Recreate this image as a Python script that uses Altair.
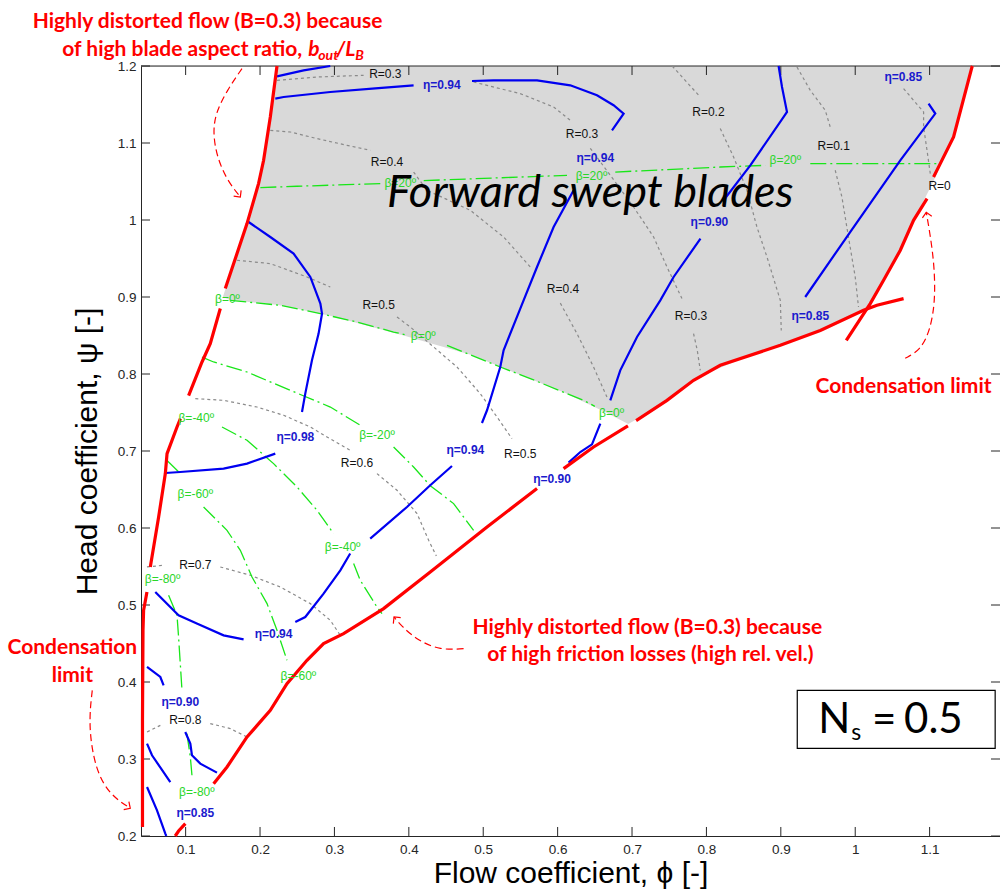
import altair as alt
import pandas as pd

# ---------------- axes ----------------
X_DOMAIN = [0.04, 1.1946]
Y_DOMAIN = [0.2, 1.2]
X_TICKS = [0.1, 0.2, 0.3, 0.4, 0.5, 0.6, 0.7, 0.8, 0.9, 1.0, 1.1]
Y_TICKS = [0.2, 0.3, 0.4, 0.5, 0.6, 0.7, 0.8, 0.9, 1.0, 1.1, 1.2]

# ---------------- shaded "forward swept" region ----------------
SHADE_Y = [0.735, 0.75, 0.775, 0.80, 0.825, 0.85, 0.875, 0.885, 0.89, 0.896, 0.90, 0.95, 1.00, 1.05, 1.10, 1.15, 1.20]
SHADE_XL = [0.695, 0.665, 0.611, 0.547, 0.483, 0.393, 0.297, 0.248, 0.222, 0.160, 0.150, 0.167, 0.184, 0.199, 0.208, 0.216, 0.223]
SHADE_XR = [0.695, 0.722, 0.760, 0.798, 0.861, 0.934, 0.994, 1.018, 1.021, 1.023, 1.025, 1.054, 1.079, 1.105, 1.128, 1.144, 1.157]

# ---------------- red limit lines ----------------
RED_LINES = {
    "top_left": ([0.2228, 0.2138, 0.2048, 0.198, 0.1825, 0.1533],
                 [1.2, 1.1338, 1.0775, 1.0473, 0.9953, 0.911]),
    "left_a": ([0.1466, 0.1331, 0.122, 0.104], [0.885, 0.8395, 0.8156, 0.772]),
    "left_b": ([0.093, 0.0884, 0.075, 0.0727, 0.0637, 0.0525], [0.742, 0.7312, 0.6966, 0.6707, 0.6143, 0.5494]),
    "left_c": ([0.048, 0.0435, 0.0427, 0.042, 0.042], [0.5169, 0.4931, 0.467, 0.35, 0.2117]),
    "low_a": ([0.086, 0.0905, 0.0996], [0.2, 0.2065, 0.2161]),
    "low_b": ([0.1376, 0.1556, 0.1825, 0.2138, 0.2362, 0.2631, 0.2854, 0.3123, 0.3661, 0.4288, 0.4602, 0.5051, 0.5723],
              [0.268, 0.2896, 0.3286, 0.3631, 0.3979, 0.4282, 0.4499, 0.4629, 0.4953, 0.5429, 0.5668, 0.6013, 0.6512]),
    "low_c": ([0.608, 0.6483, 0.6945], [0.6771, 0.7052, 0.7326]),
    "low_d": ([0.7055, 0.747, 0.7827, 0.8186, 0.8993, 0.953, 1.0112, 1.0292, 1.065],
              [0.7395, 0.7658, 0.7918, 0.8113, 0.8373, 0.8565, 0.8827, 0.8892, 0.8979]),
    "right_a": ([0.988, 1.0202, 1.0381, 1.0606, 1.0784, 1.0965], [0.8438, 0.8914, 0.9217, 0.9607, 0.9996, 1.0278]),
    "right_b": ([1.1053, 1.1143, 1.1322, 1.1569, 1.1575], [1.0558, 1.0732, 1.1078, 1.1987, 1.2]),
}

# ---------------- efficiency contours (blue) ----------------
BLUE_LINES = {
    "b1": ([0.2228, 0.2586, 0.2944], [1.1866, 1.1944, 1.2]),
    "b2a": ([0.2205, 0.2317, 0.2944, 0.355, 0.4064], [1.1577, 1.1597, 1.1662, 1.171, 1.1749]),
    "b2b": ([0.4849, 0.5139, 0.5723, 0.617, 0.6529, 0.6752, 0.6887, 0.6731],
            [1.1805, 1.1814, 1.1814, 1.1749, 1.162, 1.149, 1.1382, 1.1165]),
    "b3": ([0.1846, 0.2138, 0.2451, 0.2676, 0.2811, 0.2833, 0.2787, 0.2698, 0.2608, 0.2564],
           [0.9974, 0.9779, 0.9564, 0.926, 0.8914, 0.8784, 0.8525, 0.8178, 0.7745, 0.7506]),
    "b4": ([0.0727, 0.0928, 0.151, 0.1825, 0.2205], [0.6714, 0.6727, 0.6771, 0.6836, 0.6966]),
    "b5a": ([0.2474, 0.2608, 0.2854, 0.3079, 0.3212], [0.4779, 0.4844, 0.5148, 0.5451, 0.5668]),
    "b5b": ([0.3481, 0.3975, 0.4288, 0.458], [0.5862, 0.6273, 0.6555, 0.6805]),
    "b6": ([0.0592, 0.0905, 0.1158, 0.151, 0.1779], [0.5169, 0.4866, 0.4758, 0.4606, 0.4554]),
    "b7": ([0.0481, 0.066, 0.0704], [0.4195, 0.4065, 0.3957]),
    "b8": ([0.0481, 0.0548, 0.0794], [0.32, 0.3048, 0.2701]),
    "b9": ([0.0481, 0.0615, 0.0727, 0.074], [0.2636, 0.2334, 0.2031, 0.2]),
    "b10": ([0.0995, 0.1063, 0.1085, 0.1197, 0.1421], [0.3351, 0.32, 0.3048, 0.294, 0.2823]),
    "b11": ([0.6574, 0.6462, 0.6305, 0.6147], [0.7356, 0.7087, 0.6987, 0.6849]),
    "b12": ([0.4983, 0.5051, 0.5229, 0.5274, 0.5498, 0.5723, 0.5946, 0.6215],
            [0.7364, 0.7529, 0.8091, 0.8308, 0.8849, 0.939, 0.9909, 1.0386]),
    "b13a": ([0.6708, 0.6842, 0.7067, 0.738, 0.7559, 0.792], [0.7658, 0.8048, 0.8481, 0.8957, 0.926, 0.9759]),
    "b13b": ([0.8231, 0.859, 0.9038, 0.9083, 0.9016, 0.897], [1.0256, 1.071, 1.1338, 1.1403, 1.1727, 1.2]),
    "b15": ([0.9328, 0.9932, 1.0606, 1.1076, 1.0986], [0.9, 0.9844, 1.0775, 1.1382, 1.1512]),
}

# ---------------- reaction degree contours (grey dotted) ----------------
GRAY_LINES = {
    "r1": ([0.2228, 0.2766, 0.3392], [1.1814, 1.1857, 1.1879]),
    "r2a": ([0.487, 0.5498, 0.5946, 0.617], [1.1792, 1.1641, 1.1468, 1.1295]),
    "r2b": ([0.6439, 0.6708, 0.7021, 0.729, 0.747, 0.7671], [1.0931, 1.0581, 1.0169, 0.9779, 0.939, 0.8979]),
    "r2c": ([0.7827, 0.7877, 0.7917], [0.8525, 0.8308, 0.8048]),
    "r3a": ([0.2138, 0.2407, 0.2766, 0.3169, 0.3482], [1.1165, 1.1143, 1.1057, 1.097, 1.0905]),
    "r3b": ([0.4064, 0.4244, 0.4826, 0.5274, 0.5633], [1.0623, 1.0386, 1.0126, 0.9779, 0.939]),
    "r3c": ([0.6036, 0.626, 0.6483, 0.6663], [0.892, 0.8525, 0.8091, 0.7701]),
    "r4a": ([0.754, 0.7917], [1.2, 1.1597]),
    "r4b": ([0.8186, 0.8365, 0.8545, 0.8679, 0.8814, 0.8993, 0.9006],
            [1.1187, 1.0818, 1.0386, 0.9909, 0.9519, 0.8957, 0.8565]),
    "r5a": ([0.9217, 0.9396, 0.9597, 0.9664], [1.1987, 1.1684, 1.1425, 1.1208]),
    "r5b": ([0.9731, 0.9821, 0.9909, 1.0, 1.0044], [1.0646, 1.0299, 0.9779, 0.926, 0.887]),
    "r6": ([1.065, 1.0919, 1.0919, 1.0965, 1.1009], [1.1706, 1.1403, 1.1208, 1.0905, 1.0603]),
    "r7a": ([0.169, 0.2138, 0.2631, 0.2944], [0.9477, 0.9434, 0.926, 0.913]),
    "r7b": ([0.3841, 0.402, 0.4333, 0.4647, 0.496, 0.5185, 0.5386],
            [0.874, 0.861, 0.8351, 0.8091, 0.7745, 0.7442, 0.7161]),
    "r8a": ([0.113, 0.151, 0.1959, 0.2317, 0.2676, 0.29, 0.3213],
            [0.768, 0.7658, 0.7571, 0.7464, 0.7312, 0.7182, 0.7009]),
    "r8b": ([0.3572, 0.3841, 0.411, 0.4266, 0.437], [0.6706, 0.649, 0.6187, 0.584, 0.5636]),
    "r9a": ([0.048, 0.0704], [0.5494, 0.5516]),
    "r9b": ([0.1466, 0.1869, 0.2272, 0.2676, 0.2945, 0.3079], [0.5494, 0.5386, 0.5234, 0.5018, 0.4801, 0.4606]),
    "r10a": ([0.0481, 0.066], [0.3351, 0.3437]),
    "r10b": ([0.1331, 0.16, 0.1825], [0.346, 0.3395, 0.3286]),
}

# ---------------- blade angle contours (green dash-dot) ----------------
GREEN_LINES = {
    "p20a": ([0.2004, 0.2497, 0.3616], [1.0421, 1.0438, 1.0473]),
    "p20b": ([0.4200, 0.6126], [1.0512, 1.058]),
    "p20c": ([0.6775, 0.8186, 0.879], [1.0623, 1.0688, 1.071]),
    "p20d": ([0.9396, 1.1143], [1.0732, 1.0732]),
    "z0a": ([0.16, 0.2273, 0.2811, 0.3303, 0.3795, 0.3953], [0.8957, 0.8892, 0.8784, 0.8675, 0.8545, 0.851]),
    "z0b": ([0.4513, 0.5229, 0.5633, 0.6349, 0.65], [0.8373, 0.8091, 0.794, 0.7658, 0.758]),
    "m20a": ([0.122, 0.1376, 0.1825, 0.2407, 0.2945, 0.3347], [0.822, 0.8156, 0.8026, 0.7788, 0.7571, 0.7334]),
    "m20b": ([0.3795, 0.4064, 0.4288, 0.4602, 0.487], [0.7052, 0.6792, 0.655, 0.6317, 0.5968]),
    "m40a": ([0.1489, 0.1825, 0.2182, 0.2497, 0.2766, 0.2989], [0.7312, 0.7139, 0.6836, 0.6533, 0.623, 0.5927]),
    "m40b": ([0.3258, 0.3347, 0.3572, 0.3639], [0.5538, 0.5321, 0.4974, 0.4888]),
    "m60a": ([0.075, 0.0928], [0.6876, 0.6709]),
    "m60b": ([0.1241, 0.1556, 0.1735, 0.1892, 0.2094, 0.2228, 0.2362],
             [0.6273, 0.597, 0.571, 0.5364, 0.5018, 0.4671, 0.4282]),
    "m80a": ([0.0771, 0.0884, 0.0905, 0.0928, 0.0951], [0.5126, 0.4866, 0.4584, 0.4239, 0.3892]),
    "m80b": ([0.1017, 0.1063, 0.1085], [0.333, 0.3026, 0.2788]),
}

# ---------------- contour labels ----------------
ETA_LABELS = [
    ("η=0.94", 0.4443, 1.175), ("η=0.85", 1.0646, 1.1856), ("η=0.94", 0.6507, 1.08),
    ("η=0.90", 0.804, 0.998), ("η=0.85", 0.9396, 0.875), ("η=0.98", 0.2475, 0.7177),
    ("η=0.94", 0.476, 0.701), ("η=0.90", 0.5924, 0.6642), ("η=0.94", 0.2182, 0.4629),
    ("η=0.90", 0.0928, 0.374), ("η=0.85", 0.113, 0.2299),
]
R_LABELS = [
    ("R=0.3", 0.3684, 1.1892), ("R=0.3", 0.6327, 1.1113), ("R=0.2", 0.8027, 1.1403),
    ("R=0.4", 0.3707, 1.0753), ("R=0.1", 0.971, 1.0957), ("R=0", 1.1134, 1.0438),
    ("R=0.5", 0.3594, 0.8892), ("R=0.4", 0.6072, 0.91), ("R=0.3", 0.7793, 0.8749),
    ("R=0.6", 0.3303, 0.685), ("R=0.5", 0.5498, 0.6966), ("R=0.7", 0.113, 0.5516),
    ("R=0.8", 0.0996, 0.3502),
]
BETA_LABELS = [
    ("β=20º", 0.3885, 1.0477), ("β=20º", 0.6455, 1.0568), ("β=20º", 0.906, 1.0775),
    ("β=0º", 0.1563, 0.898), ("β=0º", 0.4194, 0.849), ("β=0º", 0.6725, 0.75),
    ("β=-20º", 0.3572, 0.7203), ("β=-40º", 0.1143, 0.7434), ("β=-40º", 0.311, 0.5753),
    ("β=-60º", 0.113, 0.6447), ("β=-60º", 0.2516, 0.4075), ("β=-80º", 0.069, 0.5343),
    ("β=-80º", 0.115, 0.2567),
]

# ---------------- annotations ----------------
ANNOT_CENTER = [
    ("Highly distorted flow (B=0.3) because", 0.1294, 1.2574),
    ("Condensation limit", 1.0649, 0.7827),
    ("Condensation", -0.0523, 0.4438),
    ("limit", -0.0523, 0.4075),
    ("Highly distorted flow (B=0.3) because", 0.7205, 0.4697),
    ("of high friction losses (high rel. vel.)", 0.7246, 0.4347),
]
ANNOT_RIGHT = [("of high blade aspect ratio,", 0.2568, 1.2213)]
ITALIC_BIG = [("b", 0.2649, 1.2213), ("/L", 0.3025, 1.2213)]
ITALIC_SMALL = [("out", 0.2783, 1.2133), ("B", 0.3280, 1.2133)]
MAIN_LABEL = [("Forward swept blades", 0.6439, 1.0355)]

ARROW_LINES = {
    "a": ([0.1757, 0.1556, 0.1399, 0.1368, 0.1421, 0.1556, 0.1735],
          [1.1966, 1.1684, 1.1382, 1.1122, 1.0818, 1.0516, 1.0299]),
    "b": ([1.0672, 1.0874, 1.1009, 1.1076, 1.1063, 1.1009, 1.0955],
          [0.8204, 0.8308, 0.8568, 0.8957, 0.9412, 0.9801, 1.01]),
    "c": ([0.4736, 0.4427, 0.4113, 0.3891, 0.3801], [0.4434, 0.4412, 0.4542, 0.4737, 0.4844]),
    "d": ([-0.0255, -0.0308, -0.0214, -0.0012, 0.0256], [0.3892, 0.3438, 0.2854, 0.2529, 0.236]),
}
ARROW_HEAD_X = [0.1735, 1.0955, 0.3801, 0.0256]
ARROW_HEAD_Y = [1.0299, 1.01, 0.4844, 0.236]
ARROW_HEAD_ANGLE = [52, 260, 231, 33]

NS_BOX = {"x": [0.9221], "x2": [1.1881], "y": [0.3139], "y2": [0.3892]}
NS_BIG = [("N", 0.9503, 0.3503), ("=", 1.0225, 0.3503), ("0.5", 1.0656, 0.3503)]
NS_SMALL = [("s", 0.9945, 0.3335)]

# ---------------- helpers ----------------
xs = alt.Scale(domain=X_DOMAIN, nice=False, zero=False)
ys = alt.Scale(domain=Y_DOMAIN, nice=False, zero=False)
AX_COLOR = "#262626"
x_axis = alt.Axis(values=X_TICKS, format="~g", ticks=False, tickSize=0, grid=False, domainColor=AX_COLOR,
                  labelFont="Liberation Sans", labelFontSize=13.5, labelColor=AX_COLOR, labelPadding=6,
                  title="Flow coefficient, ϕ [-]", titleFont="Liberation Sans", titleFontSize=30,
                  titleFontWeight="normal", titleColor="black", titlePadding=3)
y_axis = alt.Axis(values=Y_TICKS, format="~g", ticks=False, tickSize=0, grid=False, domainColor=AX_COLOR,
                  labelFont="Liberation Sans", labelFontSize=13.5, labelColor=AX_COLOR, labelPadding=5,
                  title="Head coefficient, ψ [-]", titleFont="Liberation Sans", titleFontSize=30,
                  titleFontWeight="normal", titleColor="black", titlePadding=15)


def X(field):
    return alt.X(field, type="quantitative", scale=xs, axis=x_axis)


def Y(field):
    return alt.Y(field, type="quantitative", scale=ys, axis=y_axis)


def lines_df(d):
    rows = []
    for name, (xv, yv) in d.items():
        for i, (a, b) in enumerate(zip(xv, yv)):
            rows.append({"seg": name, "i": i, "x": a, "y": b})
    return pd.DataFrame(rows)


def line_layer(d, color, width, dash=None, interp="linear"):
    kw = dict(color=color, strokeWidth=width, interpolate=interp)
    if dash:
        kw["strokeDash"] = dash
    return alt.Chart(lines_df(d)).mark_line(**kw).encode(
        x=X("x"), y=Y("y"), detail="seg:N", order="i:Q")


def text_layer(items, color, size, weight="normal", style="normal", align="center",
               font="Liberation Sans", baseline="middle"):
    df = pd.DataFrame(items, columns=["t", "x", "y"])
    return alt.Chart(df).mark_text(color=color, fontSize=size, fontWeight=weight, fontStyle=style,
                                   align=align, baseline=baseline, font=font).encode(
        x=X("x"), y=Y("y"), text="t:N")


# shaded region
shade = alt.Chart(pd.DataFrame({"y": SHADE_Y, "xl": SHADE_XL, "xr": SHADE_XR})).mark_area(
    orient="horizontal", color="#d9d9d9", opacity=1).encode(
    y=Y("y"), x=X("xl"), x2="xr")

# inward ticks and frame
TL_Y = 0.0117
TL_X = 0.0121
tick_b = pd.DataFrame({"x": X_TICKS, "y0": [Y_DOMAIN[0]] * len(X_TICKS), "y1": [Y_DOMAIN[0] + TL_Y] * len(X_TICKS)})
tick_t = pd.DataFrame({"x": X_TICKS, "y0": [Y_DOMAIN[1]] * len(X_TICKS), "y1": [Y_DOMAIN[1] - TL_Y] * len(X_TICKS)})
tick_l = pd.DataFrame({"y": Y_TICKS, "x0": [X_DOMAIN[0]] * len(Y_TICKS), "x1": [X_DOMAIN[0] + TL_X] * len(Y_TICKS)})
tick_r = pd.DataFrame({"y": Y_TICKS, "x0": [X_DOMAIN[1]] * len(Y_TICKS), "x1": [X_DOMAIN[1] - TL_X] * len(Y_TICKS)})

ticks_bottom = alt.Chart(tick_b).mark_rule(color=AX_COLOR, strokeWidth=1).encode(x=X("x"), y=Y("y0"), y2="y1")
ticks_top = alt.Chart(tick_t).mark_rule(color=AX_COLOR, strokeWidth=1).encode(x=X("x"), y=Y("y0"), y2="y1")
ticks_left = alt.Chart(tick_l).mark_rule(color=AX_COLOR, strokeWidth=1).encode(y=Y("y"), x=X("x0"), x2="x1")
ticks_right = alt.Chart(tick_r).mark_rule(color=AX_COLOR, strokeWidth=1).encode(y=Y("y"), x=X("x0"), x2="x1")
top_border = alt.Chart(pd.DataFrame({"x0": [X_DOMAIN[0]], "x1": [X_DOMAIN[1]], "y": [Y_DOMAIN[1]]})).mark_rule(
    color=AX_COLOR, strokeWidth=1).encode(x=X("x0"), x2="x1", y=Y("y"))

RED = "#ff0000"
red_layer = line_layer(RED_LINES, RED, 3.2)
blue_layer = line_layer(BLUE_LINES, "#0000f0", 2.2)
gray_layer = line_layer(GRAY_LINES, "#8a8a8a", 1.2, dash=[3, 3])
green_layer = line_layer(GREEN_LINES, "#19e619", 1.3, dash=[16, 4, 2, 4])
arrow_layer = line_layer(ARROW_LINES, RED, 1.2, dash=[7, 4], interp="basis")
heads = alt.Chart(pd.DataFrame({"x": ARROW_HEAD_X, "y": ARROW_HEAD_Y, "a": ARROW_HEAD_ANGLE})).mark_point(
    shape="M -1 -1 L 0 0 L -1 1", filled=False, color=RED, strokeWidth=1.2, size=90, opacity=1).encode(
    x=X("x"), y=Y("y"), angle=alt.Angle("a:Q", scale=None))

eta_t = text_layer(ETA_LABELS, "#1a1acd", 12, weight="bold")
r_t = text_layer(R_LABELS, "#111111", 12)
beta_t = text_layer(BETA_LABELS, "#2ad62a", 12)

ann_c = text_layer(ANNOT_CENTER, RED, 21, weight="bold", font="Lato")
ann_r = text_layer(ANNOT_RIGHT, RED, 21, weight="bold", font="Lato", align="right")
ital_b = text_layer(ITALIC_BIG, RED, 21, weight="bold", style="italic", font="Lato", align="left")
ital_s = text_layer(ITALIC_SMALL, RED, 14, weight="bold", style="italic", font="Lato", align="left")
main_t = text_layer(MAIN_LABEL, "black", 45, style="italic", font="Lato")

ns_box = alt.Chart(pd.DataFrame(NS_BOX)).mark_rect(fill="white", stroke="black", strokeWidth=1.2).encode(
    x=X("x"), x2="x2", y=Y("y"), y2="y2")
ns_big = text_layer(NS_BIG, "black", 42, font="Lato", align="left")
ns_small = text_layer(NS_SMALL, "black", 23, font="Lato", align="left")

chart = alt.layer(
    shade, ticks_bottom, ticks_top, ticks_left, ticks_right, top_border,
    gray_layer, green_layer, blue_layer, red_layer,
    arrow_layer, heads,
    eta_t, r_t, beta_t, main_t,
    ann_c, ann_r, ital_b, ital_s,
    ns_box, ns_big, ns_small,
).properties(
    width=859, height=770,
    autosize=alt.AutoSizeParams(type="none"),
    padding={"left": 141, "top": 66, "right": 0, "bottom": 56},
).configure_view(stroke=None).configure(background="white")

chart.save("out.html", embed_options={"renderer": "svg", "actions": False})
